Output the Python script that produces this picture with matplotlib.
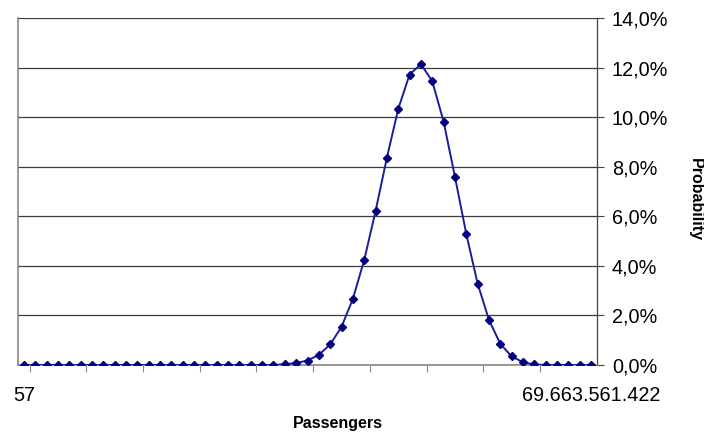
import matplotlib.pyplot as plt
from matplotlib.ticker import FuncFormatter

plt.rcParams['font.family'] = ['Liberation Sans', 'DejaVu Sans']

# Wahrscheinlichkeit je Kategorie (in %), 51 Kategorien
probability = [0.0] * 23 + [
    0.03, 0.08, 0.18, 0.41, 0.83, 1.54, 2.67, 4.24, 6.21, 8.37,
    10.34, 11.73, 12.15, 11.46, 9.83, 7.60, 5.29, 3.29, 1.82, 0.85,
    0.35, 0.11, 0.02,
] + [0.0] * 5
first_label = '57'
last_label = '69.663.561.422'

x = list(range(len(probability)))
y = [p / 100 for p in probability]

fig = plt.figure(figsize=(7.04, 4.34), dpi=100)
ax = fig.add_axes([0.026, 0.159, 0.8216, 0.7988])

ax.plot(x, y, color='#1c1c96', lw=1.4, marker='D', markersize=4.5,
        markerfacecolor='#000080', markeredgecolor='#000080', zorder=3)

ax.set_xlim(-0.5, len(x) - 0.5)
ax.set_ylim(0, 0.14)

# Y-Achse rechts
ax.yaxis.tick_right()
ax.set_yticks([i * 0.02 for i in range(8)])
ax.yaxis.set_major_formatter(FuncFormatter(lambda v, _: f'{v * 100:.1f}%'.replace('.', ',')))
ax.tick_params(axis='y', which='major', direction='out', length=5, width=0.8,
               color='#444444', labelsize=14.3, pad=6)
ax.grid(axis='y', color='#3c3c3c', lw=0.9)
ax.set_axisbelow(True)

# X-Achse: nur erste und letzte Beschriftung, Striche zwischen Kategorien
ax.set_xticks([0, len(x) - 1])
ax.set_xticklabels([first_label, last_label])
ax.set_xticks([k - 0.5 for k in range(1, len(x), 5)], minor=True)
ax.tick_params(axis='x', which='major', length=0, labelsize=14.3, pad=15)
ax.tick_params(axis='x', which='minor', direction='out', length=5, width=0.8,
               color='#888888')

for side in ['left', 'bottom']:
    ax.spines[side].set_color('#888888')
    ax.spines[side].set_linewidth(1.2)
ax.spines['right'].set_color('#444444')
ax.spines['right'].set_linewidth(0.9)
ax.spines['top'].set_visible(False)

fig.text(338 / 704, 0.025, 'Passengers', ha='center', va='center',
         fontsize=11.5, fontweight='bold')
fig.text(695 / 704, 0.541, 'Probability', ha='center', va='center',
         rotation=270, fontsize=11.5, fontweight='bold')

fig.savefig('out.png', dpi=100)
